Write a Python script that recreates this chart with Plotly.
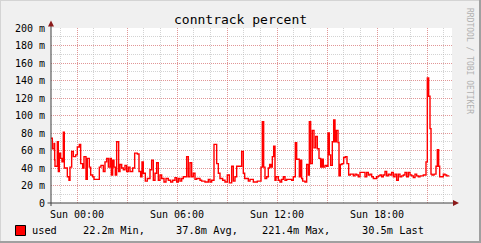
import plotly.graph_objects as go

# ---- data (minutes relative to Sun 00:00, value in milli-units) ----
minutes = [-93.6, -88.8, -82.8, -80.4, -79.2, -70.8, -67.2, -63.6, -58.8, -54, -49.2, -45.6, -34.8, -28.8,
           -25.2, -19.2, -13.2, -4.8, 1.2, 8.4, 13.2, 20.4, 25.2, 32.4, 37.2, 44.4, 49.2, 56.4, 61.2, 80.4,
           86.4, 94.8, 100.8, 106.8, 112.8, 118.8, 123.6, 128.4, 133.2, 138, 142.8, 150, 154.8, 160.8, 166.8,
           172.8, 178.8, 184.8, 190.8, 200.4, 207.6, 217.2, 223.2, 229.2, 234, 238.8, 246, 253.2, 262.8, 268.8,
           274.8, 280.8, 286.8, 292.8, 298.8, 304.8, 313.2, 320.4, 328.8, 337.2, 344.4, 352.8, 358.8, 364.8,
           370.8, 376.8, 382.8, 394.8, 400.8, 406.8, 412.8, 418.8, 424.8, 430.8, 442.8, 448.8, 460.8, 472.8,
           478.8, 484.8, 493.2, 502.8, 508.8, 514.8, 524.4, 532.8, 541.2, 548.4, 556.8, 562.8, 568.8, 574.8,
           592.8, 598.8, 603.6, 616.8, 622.8,
           634.8, 649.2, 662.4, 667.2, 672, 676.8, 682.8, 688.8, 693.6, 698.4, 703.2, 708, 712.8, 716.4, 724.8,
           730.8, 736.8, 742.8, 748.8, 754.8, 772.8, 778.8, 786, 790.8, 800.4, 805.2, 808.8, 812.4, 820.8, 826.8,
           832.8, 836.4, 841.2, 847.2, 853.2, 859.2, 865.2, 871.2, 877.2, 882, 886.8, 892.8, 898.8, 903.6, 908.4,
           913.2, 919.2, 924, 928.8, 933.6, 939.6, 943.2, 948, 954, 960, 966, 972, 978, 984, 994.8, 1000.8,
           1006.8, 1012.8, 1018.8, 1036.8, 1042.8, 1048.8, 1054.8, 1060.8, 1066.8, 1078.8, 1084.8, 1090.8,
           1096.8, 1102.8, 1108.8, 1114.8, 1120.8, 1126.8, 1132.8, 1138.8, 1144.8, 1150.8, 1156.8, 1162.8,
           1168.8, 1174.8, 1180.8, 1186.8, 1192.8, 1198.8, 1204.8, 1210.8, 1216.8, 1222.8, 1228.8, 1234.8,
           1246.8, 1256.4, 1261.2, 1266, 1270.8, 1274.4, 1278, 1285.2, 1292.4, 1297.2, 1302, 1305.6, 1318.8,
           1324.8, 1330.8, 1340.4]
used = [74, 62, 68, 49, 42, 70, 36, 57, 51, 47, 81, 40, 30, 26,
        41, 59, 53, 55, 64, 67, 45, 40, 53, 27, 51, 41, 32, 30, 27, 41,
        43, 36, 47, 51, 41, 51, 32, 49, 41, 32, 70, 36, 44, 40, 38,
        43, 36, 41, 36, 40, 57, 56, 36, 30, 47, 34, 25, 28, 38, 49,
        26, 34, 46, 26, 32, 28, 24, 28, 26, 24, 26, 29, 24, 28,
        25, 28, 30, 53, 30, 46, 30, 34, 27, 28, 26, 25, 24, 27,
        24, 26, 67, 45, 34, 28, 26, 24, 32, 23, 42, 25, 30, 42,
        59, 34, 28, 25, 27,
        24, 25, 41, 93, 41, 28, 30, 40, 44, 41, 53, 65, 26, 30, 26,
        24, 27, 30, 26, 27, 26, 30, 69, 50, 30, 49, 28, 25, 24, 44,
        32, 93, 45, 83, 63, 76, 62, 51, 41, 50, 41, 43, 42, 80, 55,
        43, 70, 95, 70, 83, 69, 31, 44, 45, 52, 53, 45, 32, 33, 31, 33,
        32, 30, 35, 30, 35, 32, 33, 30, 28, 30, 31, 32,
        30, 32, 36, 31, 33, 32, 35, 30, 33, 26, 33, 30,
        31, 32, 35, 30, 35, 32, 31, 29, 33, 31, 30, 31,
        32, 47, 143, 122, 85, 33, 32, 33, 42, 61, 42, 30, 33,
        32, 31, 31]

y_ticks = [0, 20, 40, 60, 80, 100, 120, 140, 160, 180, 200]
y_labels = ["0", "20 m", "40 m", "60 m", "80 m", "100 m", "120 m", "140 m", "160 m", "180 m", "200 m"]
x_ticks = [0, 3, 6, 9, 12, 15, 18, 21]
x_labels = ["Sun 00:00", "", "Sun 06:00", "", "Sun 12:00", "", "Sun 18:00", ""]
legend_name = "used"
legend_stats = ["22.2m Min,", "37.8m Avg,", "221.4m Max,", "30.5m Last"]

# ---- geometry ----
W, H = 481, 243
L, R, T, B = 51, 29, 28, 40
PW, PH = W - L - R, H - T - B


def px(x):
    return (x - L) / PW


def py(y):
    return (H - B - y) / PH


MONO = "DejaVu Sans Mono"
MAJ = "rgba(235,110,110,0.6)"
MIN = "rgba(175,175,175,0.55)"

fig = go.Figure()
fig.add_trace(go.Scatter(
    x=[m / 60 for m in minutes], y=used, mode="lines", line_shape="hv",
    line=dict(color="#ff0000", width=1.4), showlegend=False, hoverinfo="skip"))

fig.update_layout(
    width=W, height=H, margin=dict(l=L, r=R, t=T, b=B),
    paper_bgcolor="#f0f0f0", plot_bgcolor="#ffffff",
    font=dict(family=MONO, size=10, color="#000000"),
    showlegend=False,
    xaxis=dict(range=[-93.6 / 60, 22.5], tickvals=x_ticks, ticktext=x_labels,
               showgrid=True, gridcolor=MAJ, griddash="1px,1px", gridwidth=1,
               minor=dict(dtick=1, tick0=0, showgrid=True, gridcolor=MIN, griddash="1px,1px", gridwidth=1),
               zeroline=False, showline=False, ticks="", tickfont=dict(family=MONO, size=10),
               ticklabelstandoff=4),
    yaxis=dict(range=[0, 200], tickvals=y_ticks, ticktext=y_labels,
               showgrid=True, gridcolor=MAJ, griddash="1px,1px", gridwidth=1,
               minor=dict(dtick=10, tick0=0, showgrid=True, gridcolor=MIN, griddash="1px,1px", gridwidth=1),
               zeroline=False, showline=False, ticks="", tickfont=dict(family=MONO, size=10),
               ticklabelstandoff=5),
)

shapes = []
AX = "#404040"
ARROW = "#8b1a1a"
# axes lines
shapes.append(dict(type="line", xref="paper", yref="paper", x0=px(47.5), x1=px(455), y0=py(203), y1=py(203),
                   line=dict(color=AX, width=1)))
shapes.append(dict(type="line", xref="paper", yref="paper", x0=px(51), x1=px(51), y0=py(206), y1=py(24),
                   line=dict(color=AX, width=1)))
# arrows
shapes.append(dict(type="path", xref="paper", yref="paper",
                   path=f"M {px(48)} {py(26.5)} L {px(54)} {py(26.5)} L {px(51)} {py(20.5)} Z",
                   fillcolor=ARROW, line=dict(width=0)))
shapes.append(dict(type="path", xref="paper", yref="paper",
                   path=f"M {px(453)} {py(200)} L {px(453)} {py(206)} L {px(459)} {py(203)} Z",
                   fillcolor=ARROW, line=dict(width=0)))
# 3D border
shapes.append(dict(type="line", xref="paper", yref="paper", x0=px(0), x1=px(481), y0=py(0.5), y1=py(0.5),
                   line=dict(color="#d4d4d4", width=1)))
shapes.append(dict(type="line", xref="paper", yref="paper", x0=px(0.5), x1=px(0.5), y0=py(0), y1=py(243),
                   line=dict(color="#d4d4d4", width=1)))
shapes.append(dict(type="line", xref="paper", yref="paper", x0=px(0), x1=px(481), y0=py(242), y1=py(242),
                   line=dict(color="#a0a0a0", width=2)))
shapes.append(dict(type="line", xref="paper", yref="paper", x0=px(480), x1=px(480), y0=py(0), y1=py(243),
                   line=dict(color="#a0a0a0", width=2)))
# legend swatch
shapes.append(dict(type="rect", xref="paper", yref="paper", x0=px(15.5), x1=px(25.5), y0=py(235.5), y1=py(225.5),
                   fillcolor="#ff0000", line=dict(color="#000000", width=1)))
fig.update_layout(shapes=shapes)

ann = []
ann.append(dict(text="conntrack percent", xref="paper", yref="paper", x=px(240), y=py(19),
                xanchor="center", yanchor="middle", showarrow=False,
                font=dict(family=MONO, size=13, color="#000000")))
ann.append(dict(text="RRDTOOL / TOBI OETIKER", xref="paper", yref="paper", x=px(470), y=py(6),
                xanchor="center", yanchor="top", textangle=90, showarrow=False,
                font=dict(family=MONO, size=8, color="#b0b0b0")))
ann.append(dict(text=legend_name, xref="paper", yref="paper", x=px(30), y=py(230.5),
                xanchor="left", yanchor="middle", showarrow=False, font=dict(family=MONO, size=10.3)))
for xs, t in zip([81, 173.5, 259.5, 359.5], legend_stats):
    ann.append(dict(text=t, xref="paper", yref="paper", x=px(xs), y=py(230.5),
                    xanchor="left", yanchor="middle", showarrow=False, font=dict(family=MONO, size=10.3)))
fig.update_layout(annotations=ann)

fig.write_html("out.html")
